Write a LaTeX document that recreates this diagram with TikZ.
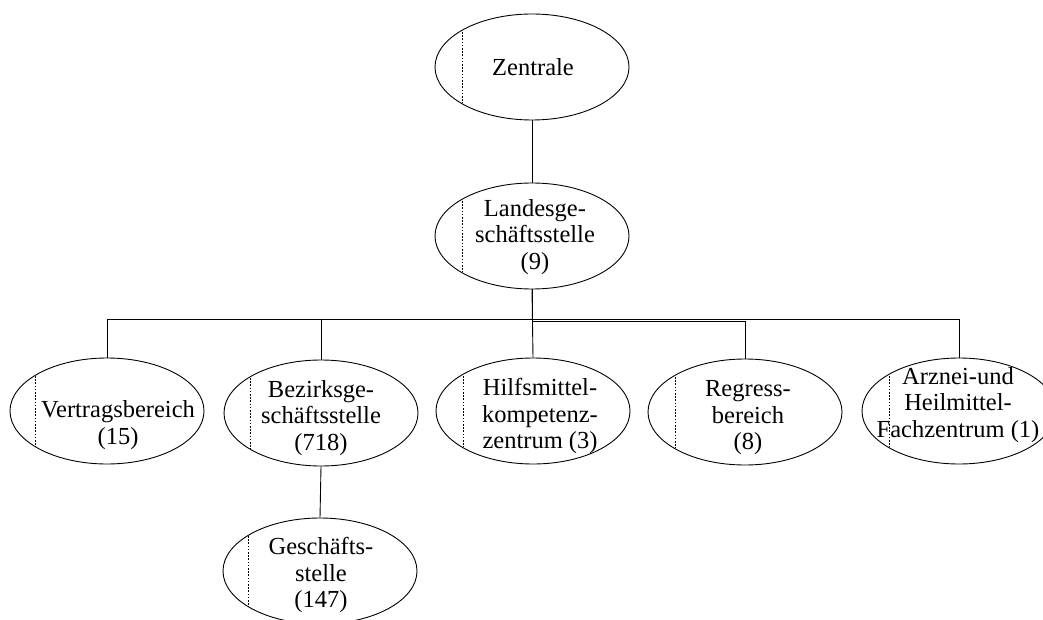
\documentclass[tikz,border=0pt]{standalone}
\usepackage{fontspec}
\setmainfont{Liberation Serif}
\usetikzlibrary{shapes.geometric}
\begin{document}
\begin{tikzpicture}[x=1pt, y=-1pt,
  unit/.style={ellipse, draw=black, line width=0.9pt, inner sep=0pt,
    minimum width=194pt, minimum height=106pt},
  caption/.style={align=center, inner sep=0pt,
    font=\fontsize{24.5}{26.5}\selectfont},
  link/.style={draw=black, line width=0.9pt},
  guide/.style={draw=black, line width=0.7pt, dash pattern=on 1.6pt off 1.6pt}
]
\useasboundingbox (0,0) rectangle (1043,620);
\clip (0,0) rectangle (1043,620);

% units
\node[unit] (zen)  at (532,67)  {};
\node[unit] (land) at (532,236) {};
\node[unit] (vert) at (107,411) {};
\node[unit] (bez)  at (321,413) {};
\node[unit] (hilf) at (533,411) {};
\node[unit] (reg)  at (745,412) {};
\node[unit] (arz)  at (959,411) {};
\node[unit] (ges)  at (320,571) {};

% captions
\node[caption] (tzen)  at (533,67)  {Zentrale};
\node[caption] (tland) at (535,237) {Landesge-\\schäftsstelle\\(9)};
\node[caption] (tvert) at (118,425) {Vertragsbereich\\(15)};
\node[caption] (tbez)  at (321,418) {Bezirksge-\\schäftsstelle\\(718)};
\node[caption] (thilf) at (540,416) {Hilfsmittel-\\kompetenz-\\zentrum (3)};
\node[caption] (treg)  at (748,418) {Regress-\\bereich\\(8)};
\node[caption] (tarz)  at (958,405) {Arznei-und\\Heilmittel-\\Fachzentrum (1)};
\node[caption] (tges)  at (321,575) {Geschäfts-\\stelle\\(147)};

% dotted guides inside the units
\foreach \u/\dx in {zen/-70, land/-70, vert/-72, bez/-71, hilf/-70, reg/-70, arz/-70, ges/-72}
  \draw[guide] ([xshift=\dx pt, yshift=35pt]\u.center) -- ([xshift=\dx pt, yshift=-36pt]\u.center);

% connectors
\draw[link] (zen.south) -- (land.north);
\draw[link] (land.south) -- (hilf.north);
\draw[link] (land.south) -- ++(0,30) -| (vert.north);
\draw[link] (land.south) -- ++(0,30) -| (bez.north);
\draw[link] (land.south) -- ++(0,30) -| (arz.north);
\draw[link] (land.south) -- ++(0,32) -| (reg.north);
\draw[link] (bez.south) -- (ges.north);
\end{tikzpicture}
\end{document}
